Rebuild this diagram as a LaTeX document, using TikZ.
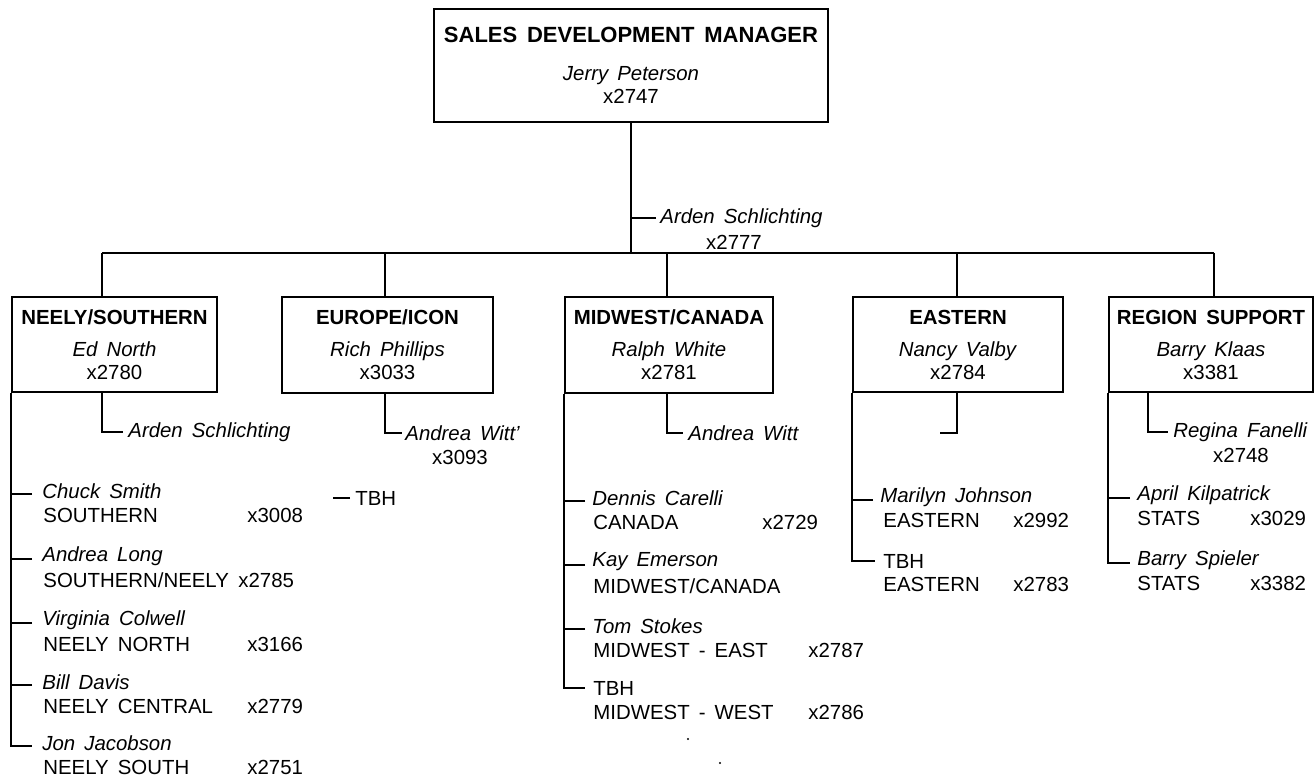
\documentclass[tikz,border=0pt]{standalone}
\usepackage{fontspec}
\setmainfont{Liberation Sans}[WordSpace=1.6]
\usetikzlibrary{positioning}
\tikzset{
  font=\fontsize{10.2}{11.5}\selectfont,
  deptbox/.style={draw,line width=1pt,inner sep=0pt,align=center,
                  minimum height=47.5pt},
  link/.style={line width=0.6pt},
  who/.style={anchor=west,inner sep=0pt,font=\fontsize{10.2}{11.5}\selectfont\itshape},
  role/.style={anchor=west,inner sep=0pt},
  ext/.style={anchor=center,inner sep=0pt},
}

\begin{document}
\begin{tikzpicture}[x=0.5pt,y=-0.5pt]
  \useasboundingbox (0,0) rectangle (1314,780);

  % ---- manager ----
  \node[deptbox,minimum width=197pt,minimum height=56.5pt] (mgr) at (631,65.5)
    {{\fontsize{11}{11.5}\selectfont\bfseries SALES DEVELOPMENT MANAGER}\\[7.5pt]
     \textit{Jerry Peterson}\\x2747};
  \node[who] (mgrAsst) at (660,218) {Arden Schlichting};
  \node[ext] (mgrAsstExt) at (734,242) {x2777};

  % ---- region boxes ----
  \node[deptbox,minimum width=102.5pt] (neely) at (114.5,344.5)
    {\textbf{NEELY/SOUTHERN}\\[4.5pt]\textit{Ed North}\\x2780};
  \node[deptbox,minimum width=105.5pt,minimum height=48pt] (europe) at (387.5,345)
    {\textbf{EUROPE/ICON}\\[4.5pt]\textit{Rich Phillips}\\x3033};
  \node[deptbox,minimum width=104pt,minimum height=48pt] (midwest) at (669,345)
    {\textbf{MIDWEST/CANADA}\\[4.5pt]\textit{Ralph White}\\x2781};
  \node[deptbox,minimum width=105pt] (eastern) at (958,344.5)
    {\textbf{EASTERN}\\[4.5pt]\textit{Nancy Valby}\\x2784};
  \node[deptbox,minimum width=102pt] (support) at (1211,344.5)
    {\textbf{REGION SUPPORT}\\[4.5pt]\textit{Barry Klaas}\\x3381};

  % ---- bus ----
  \coordinate (busN)  at (102,253);
  \coordinate (busE)  at (385,253);
  \coordinate (busM)  at (667,253);
  \coordinate (busEa) at (957,253);
  \coordinate (busR)  at (1214,253);
  \draw[link] (busN) -- (busR);
  \draw[link] (mgr.south) -- (mgr.south |- busN);
  \draw[link] ([xshift=-2pt]mgrAsst.west) -- (mgrAsst.west -| mgr.south);
  \foreach \c/\b in {busN/neely,busE/europe,busM/midwest,busEa/eastern,busR/support}{
    \draw[link] (\c) -- (\c |- \b.north);
  }

  % ---- assistants under each box ----
  \node[who] (nAsst) at (128,432) {Arden Schlichting};
  \draw[link] (neely.south -| busN) |- ([xshift=-2.5pt]nAsst.west);

  \node[who] (eAsst) at (405,433) {Andrea Witt'};
  \node[ext] (eAsstExt) at (460,457) {x3093};
  \draw[link] (europe.south -| busE) |- ([xshift=-1.5pt]eAsst.west);
  \node[role] (eTBH) at (355,498) {TBH};
  \draw[link] ([xshift=-2.5pt]eTBH.west) -- ++(-8.5pt,0);

  \node[who] (mAsst) at (688,433) {Andrea Witt};
  \draw[link] (midwest.south -| busM) |- ([xshift=-2.5pt]mAsst.west);

  \coordinate (eaSubEnd) at (940,433);
  \draw[link] (eastern.south -| busEa) |- (eaSubEnd);

  \coordinate (rSub) at (1148,432);
  \node[who] (rAsst) at (1173,432) {Regina Fanelli};
  \node[ext] (rAsstExt) at (1241,455) {x2748};
  \draw[link] (rSub |- support.south) |- ([xshift=-2.5pt]rAsst.west);

  % ---- NEELY/SOUTHERN staff ----
  \node[who]  (nmSmith)    at (42,491) {Chuck Smith};
  \node[role] (dpSmith)    at (43,515) {SOUTHERN};
  \node[role] (exSmith)    at (247,515) {x3008};
  \node[who]  (nmLong)     at (42,556) {Andrea Long};
  \node[role] (dpLong)     at (43,580) {SOUTHERN/NEELY};
  \node[role] (exLong)     at (238,580) {x2785};
  \node[who]  (nmColwell)  at (42,620) {Virginia Colwell};
  \node[role] (dpColwell)  at (43,644) {NEELY NORTH};
  \node[role] (exColwell)  at (247,644) {x3166};
  \node[who]  (nmDavis)    at (42,682) {Bill Davis};
  \node[role] (dpDavis)    at (43,706) {NEELY CENTRAL};
  \node[role] (exDavis)    at (247,706) {x2779};
  \node[who]  (nmJacobson) at (42,743) {Jon Jacobson};
  \node[role] (dpJacobson) at (43,767) {NEELY SOUTH};
  \node[role] (exJacobson) at (247,767) {x2751};
  \foreach \p in {Smith,Long,Colwell,Davis}{
    \draw[link] ([xshift=-5pt,yshift=-1.5pt]nm\p.west) -- ([yshift=-1.5pt]nm\p.west -| neely.west);
  }
  \draw[link] (neely.south west) |- ([xshift=-5pt,yshift=-1.5pt]nmJacobson.west);

  % ---- MIDWEST/CANADA staff ----
  \node[who]  (nmCarelli) at (592,498) {Dennis Carelli};
  \node[role] (dpCarelli) at (593,522) {CANADA};
  \node[role] (exCarelli) at (762,522) {x2729};
  \node[who]  (nmEmerson) at (592,562) {Kay Emerson};
  \node[role] (dpEmerson) at (593,586) {MIDWEST/CANADA};
  \node[who]  (nmStokes)  at (592,626) {Tom Stokes};
  \node[role] (dpStokes)  at (593,650) {MIDWEST - EAST};
  \node[role] (exStokes)  at (808,650) {x2787};
  \node[role] (nmMwTBH)   at (593,688) {TBH};
  \node[role] (dpMwTBH)   at (593,712) {MIDWEST - WEST};
  \node[role] (exMwTBH)   at (808,712) {x2786};
  \foreach \p in {Carelli,Emerson,Stokes}{
    \draw[link] ([xshift=-3.5pt,yshift=-1.5pt]nm\p.west) -- ([yshift=-1.5pt]nm\p.west -| midwest.west);
  }
  \draw[link] (midwest.south west) |- ([xshift=-4pt]nmMwTBH.west);
  \fill (688,739) circle (0.6pt);
  \fill (720,763) circle (0.6pt);

  % ---- EASTERN staff ----
  \node[who]  (nmJohnson) at (880,497) {Marilyn Johnson};
  \node[role] (dpJohnson) at (883,520) {EASTERN};
  \node[role] (exJohnson) at (1013,520) {x2992};
  \node[role] (nmEaTBH)   at (883,561) {TBH};
  \node[role] (dpEaTBH)   at (883,584) {EASTERN};
  \node[role] (exEaTBH)   at (1013,584) {x2783};
  \draw[link] ([xshift=-3.5pt,yshift=-1.5pt]nmJohnson.west) -- ([yshift=-1.5pt]nmJohnson.west -| eastern.west);
  \draw[link] (eastern.south west) |- ([xshift=-4pt]nmEaTBH.west);

  % ---- REGION SUPPORT staff ----
  \node[who]  (nmKilpatrick) at (1137,495) {April Kilpatrick};
  \node[role] (dpKilpatrick) at (1137,518) {STATS};
  \node[role] (exKilpatrick) at (1250,518) {x3029};
  \node[who]  (nmSpieler)    at (1137,560) {Barry Spieler};
  \node[role] (dpSpieler)    at (1137,583) {STATS};
  \node[role] (exSpieler)    at (1250,583) {x3382};
  \draw[link] ([xshift=-3.5pt,yshift=-1.5pt]nmKilpatrick.west) -- ([yshift=-1.5pt]nmKilpatrick.west -| support.west);
  \draw[link] (support.south west) |- ([xshift=-3.5pt,yshift=-1.5pt]nmSpieler.west);
\end{tikzpicture}
\end{document}
